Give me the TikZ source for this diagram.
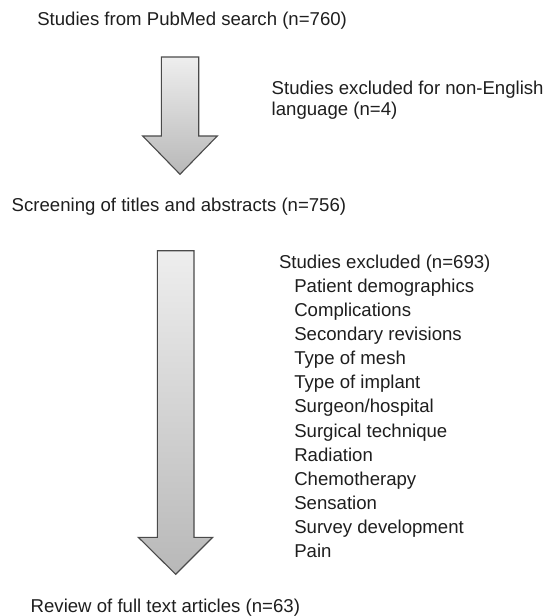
\documentclass[tikz,border=0pt]{standalone}
\usepackage{fontspec}
\setmainfont{Liberation Sans}
\definecolor{txt}{HTML}{1E1E1E}
\definecolor{arrline}{HTML}{4A4A4A}
\definecolor{arrtop}{HTML}{EEEEEE}
\definecolor{arrbot}{HTML}{B8B8B8}
\begin{document}
\begin{tikzpicture}[x=1pt,y=-1pt,
  lbl/.style={anchor=base west,inner sep=0pt,outer sep=0pt,text=txt,
    font=\fontsize{18.6}{21}\selectfont},
  bigarrow/.style={draw=arrline,line width=1.1pt,line join=miter,
    top color=arrtop,bottom color=arrbot}]
\useasboundingbox (0,0) rectangle (549,616);

\node[lbl] (pubmed) at (37.3,25.7) {Studies from PubMed search (n=760)};
\node[lbl] (excl1a) at (271.7,94.5) {Studies excluded for non-English};
\node[lbl] (excl1b) at (271.7,115) {language (n=4)};
\node[lbl] (screen) at (11.7,211) {Screening of titles and abstracts (n=756)};

\node[lbl] (excl2) at (279,268.3) {Studies excluded (n=693)};
\foreach \t [count=\i] in {Patient demographics,Complications,Secondary revisions,Type of mesh,Type of implant,Surgeon/hospital,Surgical technique,Radiation,Chemotherapy,Sensation,Survey development,Pain}
  \node[lbl] (item\i) at (294.3,268.3+24.1*\i) {\t};

\node[lbl] (review) at (30.7,612.3) {Review of full text articles (n=63)};

% arrow 1
\path[bigarrow] (161.3,57) -- (198.7,57) -- (198.7,136) -- (217.3,136)
  -- (180,174.3) -- (142.7,136) -- (161.3,136) -- cycle;
% arrow 2
\path[bigarrow] (157.3,250.7) -- (194,250.7) -- (194,537.3) -- (212.7,537.3)
  -- (175.7,574.3) -- (138.3,537.3) -- (157.3,537.3) -- cycle;
\end{tikzpicture}
\end{document}
